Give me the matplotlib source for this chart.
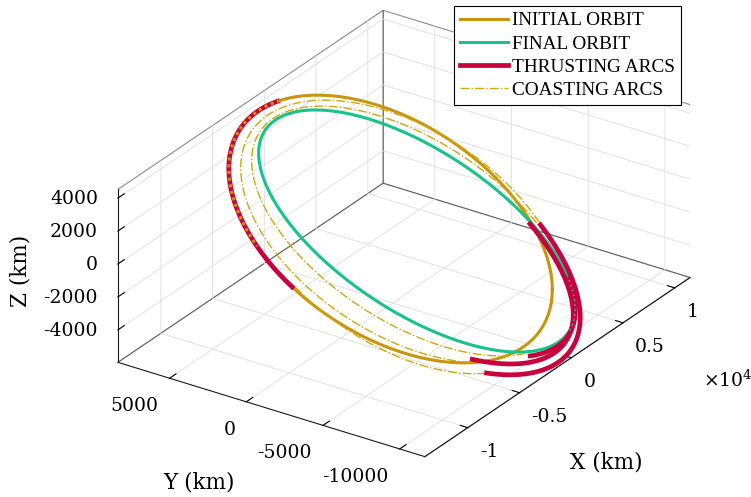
import numpy as np
import matplotlib
matplotlib.use("Agg")
import matplotlib.pyplot as plt
from matplotlib.lines import Line2D
from matplotlib.transforms import IdentityTransform
from mpl_toolkits.mplot3d import proj3d

# ---------------- data ----------------
# orbital plane
incl_deg = 31.0
raan_deg = 10.0
ref_deg = -85.0            # in-plane reference direction, measured from the node

# in-plane ellipses: centre (c1, c2) and conjugate semi-diameters U, V  [km]
ell_names = ["initial", "final", "coast0", "coast1", "coast2", "thrust1", "thrust2", "thrust3"]
ell_c1 = [678, 1898, 896, 1302, 1636, 1121, 1121, 1339]
ell_c2 = [-1988, -712, -2116, -1503, -1035, -1384, -1384, -1115]
ell_u1 = [9004, 9394, 9353, 9114, 9201, 10668, 10275, 10024]
ell_u2 = [4148, 2648, 3384, 3964, 3275, 2920, 2754, 2879]
ell_v1 = [3775, 2936, 3862, 3638, 3267, 3672, 3304, 3114]
ell_v2 = [-9116, -7089, -9327, -8784, -7887, -8867, -7978, -7519]

# arcs (in-plane longitude, deg)
thrust_ell = ["initial", "thrust1", "thrust2", "thrust3"]
thrust_from = [167.4, 319.7, 317.4, 338.3]
thrust_to = [261.9, 43.0, 42.8, 22.1]
coast_ell = ["coast0", "coast1", "coast2"]
coast_from = [261.9, 43.0, 42.8]
coast_to = [319.7, 317.4, 338.3]

x_ticks = [-10000, -5000, 0, 5000, 10000]
x_ticklabels = ["-1", "-0.5", "0", "0.5", "1"]
y_ticks = [-10000, -5000, 0, 5000]
y_ticklabels = ["-10000", "-5000", "0", "5000"]
z_ticks = [-4000, -2000, 0, 2000, 4000]
z_ticklabels = ["-4000", "-2000", "0", "2000", "4000"]
x_lim = (-14150, 11480)
y_lim = (-11639, 8368)
z_lim = (-5972, 4525)

legend_labels = ["INITIAL ORBIT", "FINAL ORBIT", "THRUSTING ARCS", "COASTING ARCS"]

# ---------------- styles ----------------
C_INIT = "#C9950C"
C_COAST = "#D1A80A"
C_FINAL = "#17C28B"
C_THRUST = "#C8003E"

# ---------------- geometry helpers ----------------
i = np.radians(incl_deg); O = np.radians(raan_deg); w0 = np.radians(ref_deg)
e1 = np.array([np.cos(O), np.sin(O), 0.0])
e2 = np.array([-np.cos(i) * np.sin(O), np.cos(i) * np.cos(O), np.sin(i)])
d1 = np.cos(w0) * e1 + np.sin(w0) * e2
d2 = np.cos(w0 + np.pi / 2) * e1 + np.sin(w0 + np.pi / 2) * e2


def ellipse2d(name, n=4000):
    k = ell_names.index(name)
    t = np.linspace(0, 2 * np.pi, n, endpoint=False)
    q1 = ell_c1[k] + ell_u1[k] * np.cos(t) + ell_v1[k] * np.sin(t)
    q2 = ell_c2[k] + ell_u2[k] * np.cos(t) + ell_v2[k] * np.sin(t)
    return q1, q2


def to3d(q1, q2):
    P = np.outer(q1, d1) + np.outer(q2, d2)
    return P[:, 0], P[:, 1], P[:, 2]


def full(name):
    q1, q2 = ellipse2d(name)
    q1 = np.append(q1, q1[0]); q2 = np.append(q2, q2[0])
    return to3d(q1, q2)


def arc(name, a0, a1):
    q1, q2 = ellipse2d(name)
    ang = np.degrees(np.arctan2(q2, q1)) % 360
    span = (a1 - a0) % 360
    off = (ang - a0) % 360
    sel = off <= span
    order = np.argsort(off[sel])
    return to3d(q1[sel][order], q2[sel][order])


# ---------------- figure ----------------
plt.rcParams["grid.color"] = "#dedede"
plt.rcParams["grid.linewidth"] = 0.6
fig = plt.figure(figsize=(7.51, 4.97), dpi=100)
ax = fig.add_axes([0.029, 0.0167, 1.0, 1.0], projection="3d", proj_type="ortho")
ax.computed_zorder = False
ax.view_init(elev=27.1, azim=-146.0)
ax.set_xlim(*x_lim); ax.set_ylim(*y_lim); ax.set_zlim(*z_lim)
ax.set_box_aspect((x_lim[1] - x_lim[0], y_lim[1] - y_lim[0], z_lim[1] - z_lim[0]), zoom=1.235)

for axis in (ax.xaxis, ax.yaxis, ax.zaxis):
    axis.pane.set_facecolor((1, 1, 1, 0))
    axis.pane.set_edgecolor((0.1, 0.1, 0.1, 1))
    axis.pane.set_linewidth(0.8)
    axis.line.set_color((0.1, 0.1, 0.1))
    axis.line.set_linewidth(0.8)
    axis._axinfo["grid"].update(color="#dedede", linewidth=0.6)
    axis._axinfo["tick"].update(inward_factor=0.0, outward_factor=0.3)

ax.set_xticks(x_ticks); ax.set_xticklabels([])
ax.set_yticks(y_ticks); ax.set_yticklabels([])
ax.set_zticks(z_ticks); ax.set_zticklabels([])

# orbits
x, y, z = full("initial")
ax.plot(x, y, z, color=C_INIT, lw=2.2, zorder=2)
x, y, z = full("final")
ax.plot(x, y, z, color=C_FINAL, lw=2.2, zorder=3)
for nm, a0, a1 in zip(coast_ell, coast_from, coast_to):
    x, y, z = arc(nm, a0, a1)
    ax.plot(x, y, z, color=C_COAST, lw=1.0, ls="-.", zorder=4)
for nm, a0, a1 in zip(thrust_ell, thrust_from, thrust_to):
    x, y, z = arc(nm, a0, a1)
    ax.plot(x, y, z, color=C_THRUST, lw=3.4, zorder=5, solid_capstyle="butt")
# underlying lines showing through the thrust arcs
x, y, z = arc("initial", thrust_from[0], 246.4)
ax.plot(x, y, z, color=C_INIT, lw=2.2, ls=(0, (1.0, 1.2)), zorder=6)
x, y, z = arc("final", 0.0, 22.6)
ax.plot(x, y, z, color=C_FINAL, lw=1.2, ls=(0, (1.0, 2.0)), zorder=6)

# tick labels placed at the projected tick positions
fig.canvas.draw()
M = ax.get_proj()
tick_font = dict(family="DejaVu Serif", size=13.5)


def put_labels(xs, ys, zs, labels, dx, dy, ha, va):
    for xx, yy, zz, lab in zip(xs, ys, zs, labels):
        x2, y2, _ = proj3d.proj_transform(xx, yy, zz, M)
        px, py = ax.transData.transform((x2, y2))
        fig.text(px + dx, py + dy, lab, transform=IdentityTransform(),
                 ha=ha, va=va, **tick_font)


n = len(x_ticks)
put_labels(x_ticks, [y_lim[0]] * n, [z_lim[0]] * n, x_ticklabels, 12, -24, "left", "center")
n = len(y_ticks)
put_labels([x_lim[0]] * n, y_ticks, [z_lim[0]] * n, y_ticklabels, -11, -28, "right", "center")
n = len(z_ticks)
put_labels([x_lim[0]] * n, [y_lim[1]] * n, z_ticks, z_ticklabels, -20, -1, "right", "center")

# axis labels
lab_font = dict(family="DejaVu Serif", size=15.5)
fig.text(21 / 751, 1 - 271 / 497, "Z (km)", rotation=90, ha="center", va="center", **lab_font)
fig.text(199 / 751, 1 - 482 / 497, "Y (km)", ha="center", va="center", **lab_font)
fig.text(606 / 751, 1 - 463 / 497, "X (km)", ha="center", va="center", **lab_font)
fig.text(703 / 751, 1 - 380 / 497, r"$\times10^{4}$", ha="left", va="center",
         size=13.5, math_fontfamily="dejavuserif")

handles = [Line2D([], [], color=C_INIT, lw=2.2),
           Line2D([], [], color=C_FINAL, lw=2.2),
           Line2D([], [], color=C_THRUST, lw=3.4),
           Line2D([], [], color=C_COAST, lw=1.0, ls="-.")]
leg = fig.legend(handles, legend_labels, loc="upper right",
                 bbox_to_anchor=(681 / 751, 1 - 6 / 497),
                 prop=dict(family="Liberation Serif", size=13.9),
                 frameon=True, fancybox=False, edgecolor="black", framealpha=1,
                 handlelength=2.5, handletextpad=0.22, borderpad=0.31,
                 labelspacing=0.29, borderaxespad=0.0)
leg.get_frame().set_linewidth(0.8)

fig.savefig("out.png", dpi=100)
